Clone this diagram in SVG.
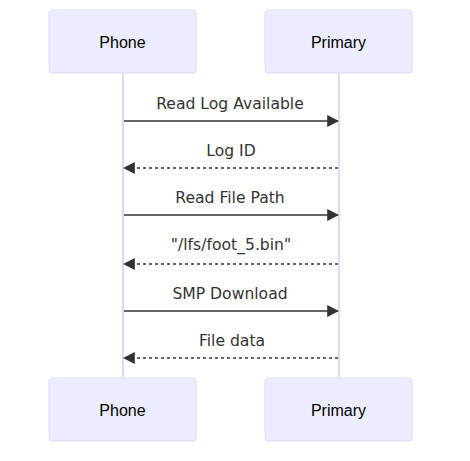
<svg xmlns="http://www.w3.org/2000/svg" width="470" height="461" viewBox="0 0 470 461">
<style>
.actor{fill:#ECECFF;stroke:#E0D8F6;stroke-width:1}
.atext{font-family:"Liberation Sans",Arial,sans-serif;font-size:16px;fill:#000;text-anchor:middle;dominant-baseline:central}
.life{stroke:#E0D8F6;stroke-width:2}
.msg{stroke:#333;stroke-width:1.5;fill:none}
.dash{stroke-dasharray:3,3}
.mtext{font-family:"DejaVu Sans",Verdana,sans-serif;font-size:15.6px;fill:#333;text-anchor:middle;dominant-baseline:central}
</style>
<defs>
<marker id="ah" viewBox="0 0 10 10" refX="9" refY="5" markerUnits="userSpaceOnUse" markerWidth="12" markerHeight="12" orient="auto">
<path d="M0 0 L10 5 L0 10 z" fill="#333"/>
</marker>
</defs>
<rect width="470" height="461" fill="#fff"/>
<g id="lifelines">
<line class="life" x1="123" y1="73" x2="123" y2="378"/>
<line class="life" x1="339" y1="73" x2="339" y2="378"/>
</g>
<g id="phone-top"><rect class="actor" x="49" y="10" width="147" height="63" rx="3"/><text class="atext" x="122.5" y="42">Phone</text></g>
<g id="primary-top"><rect class="actor" x="265" y="10" width="147" height="63" rx="3"/><text class="atext" x="338.5" y="42">Primary</text></g>
<g id="phone-bottom"><rect class="actor" x="49" y="378" width="147" height="63" rx="3"/><text class="atext" x="122.5" y="410">Phone</text></g>
<g id="primary-bottom"><rect class="actor" x="265" y="378" width="147" height="63" rx="3"/><text class="atext" x="338.5" y="410">Primary</text></g>
<g id="connectors">
<line class="msg" x1="124" y1="121" x2="338" y2="121" marker-end="url(#ah)"/>
<line class="msg dash" x1="338" y1="168" x2="124" y2="168" marker-end="url(#ah)"/>
<line class="msg" x1="124" y1="215" x2="338" y2="215" marker-end="url(#ah)"/>
<line class="msg dash" x1="338" y1="264" x2="124" y2="264" marker-end="url(#ah)"/>
<line class="msg" x1="124" y1="311" x2="338" y2="311" marker-end="url(#ah)"/>
<line class="msg dash" x1="338" y1="358" x2="124" y2="358" marker-end="url(#ah)"/>
<text class="mtext" x="230" y="104">Read Log Available</text>
<text class="mtext" x="231" y="151">Log ID</text>
<text class="mtext" x="230" y="198">Read File Path</text>
<text class="mtext" x="231" y="245">"/lfs/foot_5.bin"</text>
<text class="mtext" x="230" y="294">SMP Download</text>
<text class="mtext" x="232" y="341">File data</text>
</g>
</svg>
